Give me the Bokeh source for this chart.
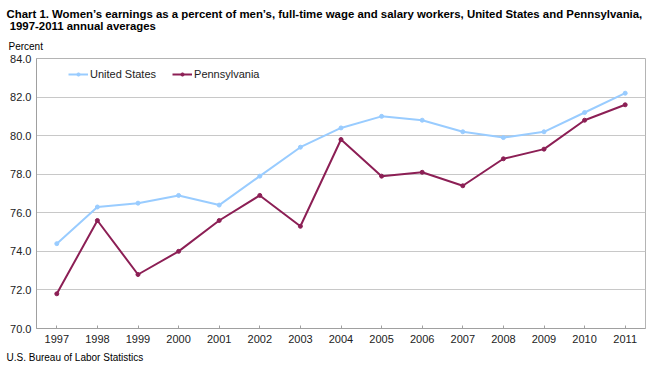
from bokeh.plotting import figure
from bokeh.models import Title, Legend, LegendItem, FixedTicker, NumeralTickFormatter, Range1d
from bokeh.embed import file_html
from bokeh.resources import INLINE

years = list(range(1997, 2012))
us = [74.4, 76.3, 76.5, 76.9, 76.4, 77.9, 79.4, 80.4, 81.0, 80.8, 80.2, 79.9, 80.2, 81.2, 82.2]
pa = [71.8, 75.6, 72.8, 74.0, 75.6, 76.9, 75.3, 79.8, 77.9, 78.1, 77.4, 78.8, 79.3, 80.8, 81.6]
y_ticks = [70, 72, 74, 76, 78, 80, 82, 84]

title1 = "Chart 1. Women\u2019s earnings as a percent of men\u2019s, full-time wage and salary workers, United States and Pennsylvania,"
title2 = "\u00a01997-2011 annual averages"
y_label = "Percent"
source = "U.S. Bureau of Labor Statistics"

US_COLOR = "#99CCFF"
PA_COLOR = "#8C1F55"
FONT = "Liberation Sans"

W, H = 650, 369
p = figure(width=W, height=H, output_backend="svg", toolbar_location=None,
           x_range=Range1d(1996.5, 2011.5), y_range=Range1d(70, 84),
           min_border_left=36, min_border_right=5, min_border_top=58, min_border_bottom=41)
p.title = None
p.background_fill_color = "white"
p.border_fill_color = "white"
p.outline_line_color = "#b4b4b4"

p.xgrid.grid_line_color = None
p.ygrid.grid_line_color = "#c8c8c8"
p.ygrid.ticker = FixedTicker(ticks=y_ticks)

p.xaxis.ticker = FixedTicker(ticks=years)
p.yaxis.ticker = FixedTicker(ticks=y_ticks)
p.yaxis.formatter = NumeralTickFormatter(format="0.0")
for ax in (p.xaxis, p.yaxis):
    ax.axis_line_color = "#a0a0a0"
    ax.major_tick_line_color = "#a0a0a0"
    ax.minor_tick_line_color = None
    ax.major_tick_out = 0
    ax.major_label_text_font = FONT
    ax.major_label_text_font_size = "11px"
    ax.major_label_text_color = "#222222"
p.xaxis.major_tick_in = 3
p.yaxis.major_tick_in = 0
p.xaxis.major_label_standoff = 6
p.yaxis.major_label_standoff = 5

l_us = p.line(years, us, line_color=US_COLOR, line_width=2)
s_us = p.scatter(years, us, size=4, fill_color=US_COLOR, line_color=US_COLOR)
l_pa = p.line(years, pa, line_color=PA_COLOR, line_width=2)
s_pa = p.scatter(years, pa, size=4, fill_color=PA_COLOR, line_color=PA_COLOR)

legend = Legend(items=[LegendItem(label="United States", renderers=[l_us, s_us]),
                       LegendItem(label="Pennsylvania", renderers=[l_pa, s_pa])],
                orientation="horizontal", location=(32, 244), margin=0, padding=0,
                spacing=16, label_standoff=2, glyph_width=20, glyph_height=8,
                label_height=20,
                border_line_color=None, background_fill_alpha=0,
                label_text_font=FONT, label_text_font_size="11px", label_text_color="#222222")
p.add_layout(legend)

def make_title(text, size, bold, standoff, offset=-30):
    return Title(text=text, align="left", offset=offset, standoff=standoff,
                 text_font=FONT, text_font_size=size,
                 text_font_style="bold" if bold else "normal", text_color="#000000")

p.add_layout(make_title(y_label, "10px", False, 14, -28), "above")
p.add_layout(make_title(title1 + "\n" + title2, "11.4px", True, 0), "above")
p.add_layout(make_title(source, "10px", False, 9), "below")

open("out.html", "w").write(file_html(p, INLINE))
